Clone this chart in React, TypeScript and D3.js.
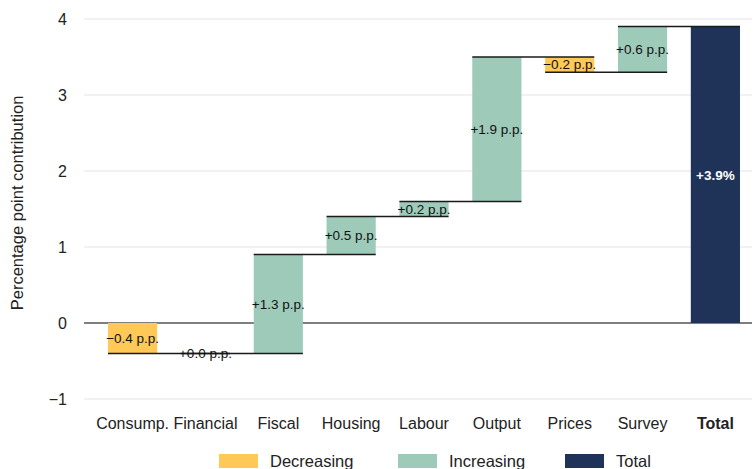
import * as d3 from "d3";
import { useEffect } from "react";

// contribution of each block, percentage points
const categories = ["Consump.", "Financial", "Fiscal", "Housing", "Labour", "Output", "Prices", "Survey"];
const contributions = [-0.4, 0.0, 1.3, 0.5, 0.2, 1.9, -0.2, 0.6];
const totalLabel = "Total";
const yTicks = [-1, 0, 1, 2, 3, 4];
const legendItems = ["Decreasing", "Increasing", "Total"];

const colors: Record<string, string> = {
  Decreasing: "#FFC857",
  Increasing: "#9ECBB9",
  Total: "#1F3359",
};

const W = 754;
const H = 469;
const FONT = "'Liberation Sans', Arial, Helvetica, sans-serif";

export default function App() {
  useEffect(() => {
    document.body.style.margin = "0";
  }, []);

  const plotLeft = 84;
  const plotRight = 752;

  const x = d3
    .scaleBand<string>()
    .domain([...categories, totalLabel])
    .range([96, 752])
    .paddingInner(0.325)
    .paddingOuter(0.165);

  const y = d3.scaleLinear().domain([-1, 4]).range([399, 19]);

  // running totals for the waterfall
  let run = 0;
  const steps = categories.map((c, i) => {
    const start = run;
    const end = Math.round((run + contributions[i]) * 10) / 10;
    run = end;
    return { cat: c, start, end, value: contributions[i] };
  });
  const total = run;

  const bw = x.bandwidth();
  const fmt = (v: number) => (v < 0 ? "\u2212" : "+") + Math.abs(v).toFixed(1) + " p.p.";

  const allCats = [...categories, totalLabel];

  return (
    <svg width={W} height={H} style={{ display: "block", fontFamily: FONT }}>
      {/* grid */}
      {yTicks.map((t) => (
        <g key={t}>
          <line
            x1={plotLeft}
            x2={plotRight}
            y1={y(t)}
            y2={y(t)}
            stroke={t === 0 ? "#555" : "#e3e3e3"}
            strokeWidth={t === 0 ? 1.5 : 1}
          />
          <text x={67} y={y(t)} dy="0.35em" textAnchor="end" fontSize={16} fill="#222">
            {t < 0 ? "\u2212" + Math.abs(t) : t}
          </text>
        </g>
      ))}

      <text
        transform={`translate(23,${y(1.58)}) rotate(-90)`}
        textAnchor="middle"
        fontSize={16.5}
        fill="#222"
      >
        Percentage point contribution
      </text>

      {/* bars */}
      {steps.map((s) => (
        <rect
          key={s.cat}
          x={x(s.cat)}
          y={y(Math.max(s.start, s.end))}
          width={bw}
          height={Math.abs(y(s.start) - y(s.end))}
          fill={s.value < 0 ? colors.Decreasing : colors.Increasing}
        />
      ))}
      <rect x={x(totalLabel)} y={y(total)} width={bw} height={y(0) - y(total)} fill={colors.Total} />

      {/* connectors */}
      {steps.map((s, i) => (
        <line
          key={"c" + s.cat}
          x1={x(s.cat)!}
          x2={x(allCats[i + 1])! + bw}
          y1={y(s.end)}
          y2={y(s.end)}
          stroke="#1a1a1a"
          strokeWidth={1.5}
        />
      ))}

      {/* value labels */}
      {steps.map((s) => (
        <text
          key={"l" + s.cat}
          x={x(s.cat)! + bw / 2}
          y={y((s.start + s.end) / 2)}
          dy="0.35em"
          textAnchor="middle"
          fontSize={13.5}
          fill="#111"
        >
          {fmt(s.value)}
        </text>
      ))}
      <text
        x={x(totalLabel)! + bw / 2}
        y={y(total / 2)}
        dy="0.35em"
        textAnchor="middle"
        fontSize={13.5}
        fontWeight="bold"
        fill="#fff"
      >
        {"+" + total.toFixed(1) + "%"}
      </text>

      {/* x axis labels */}
      {allCats.map((c) => (
        <text
          key={"x" + c}
          x={x(c)! + bw / 2}
          y={429}
          textAnchor="middle"
          fontSize={16}
          fontWeight={c === totalLabel ? "bold" : "normal"}
          fill="#222"
        >
          {c}
        </text>
      ))}

      {/* legend */}
      {legendItems.map((k, i) => {
        const lx = [219, 398, 565][i];
        return (
          <g key={k} transform={`translate(${lx},454)`}>
            <rect width={39} height={14} fill={colors[k]} />
            <text x={51} y={13} fontSize={16.5} fill="#222">
              {k}
            </text>
          </g>
        );
      })}
    </svg>
  );
}
